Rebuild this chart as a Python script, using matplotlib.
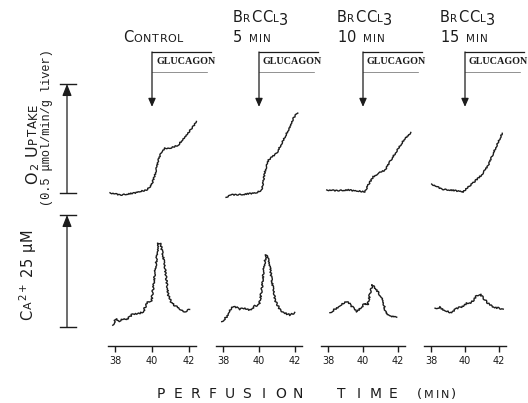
import numpy as np
import matplotlib
matplotlib.use('Agg')
import matplotlib.pyplot as plt
from matplotlib import transforms

# perfusion time (min)
# O2 uptake in umol/min/g liver above the pre-glucagon baseline
t_o2_ctrl = [37.73, 38.27, 38.99, 39.71, 39.98, 40.16, 40.34, 40.52, 40.70, 41.06, 41.42, 41.78, 42.15, 42.42]
o2_ctrl = [0.001, -0.009, -0.001, 0.014, 0.037, 0.083, 0.151, 0.190, 0.205, 0.208, 0.220, 0.258, 0.297, 0.327]

t_o2_5 = [38.17, 38.39, 39.13, 39.87, 40.15, 40.24, 40.33, 40.52, 40.79, 40.98, 41.26, 41.63, 41.91, 42.13]
o2_5 = [-0.020, -0.009, -0.006, 0.001, 0.014, 0.052, 0.098, 0.151, 0.170, 0.182, 0.228, 0.289, 0.343, 0.368]

t_o2_10 = [37.93, 38.40, 39.16, 39.64, 40.11, 40.30, 40.59, 40.87, 41.26, 41.54, 42.02, 42.40, 42.74]
o2_10 = [0.014, 0.011, 0.014, 0.009, 0.006, 0.037, 0.075, 0.090, 0.105, 0.144, 0.205, 0.251, 0.277]

t_o2_15 = [38.04, 38.34, 38.63, 39.12, 39.61, 39.90, 40.10, 40.49, 40.98, 41.37, 41.66, 41.96, 42.19]
o2_15 = [0.041, 0.029, 0.018, 0.014, 0.009, 0.005, 0.022, 0.047, 0.083, 0.128, 0.182, 0.235, 0.274]

# effluent Ca2+ (uM)
t_ca_ctrl = [37.88, 38.05, 38.23, 38.45, 38.63, 38.90, 39.35, 39.53, 39.71, 39.98, 40.07, 40.22, 40.34,
             40.47, 40.61, 40.76, 40.88, 41.06, 41.34, 41.61, 41.78, 42.02]
ca_ctrl = [0.4, 1.9, 1.2, 1.9, 1.6, 2.7, 3.1, 3.4, 5.3, 6.0, 9.0, 14.2, 18.7,
           18.5, 15.7, 11.2, 7.1, 5.3, 4.5, 3.8, 3.4, 4.0]

t_ca_5 = [37.93, 38.21, 38.48, 38.67, 38.94, 39.22, 39.50, 39.78, 40.02, 40.15, 40.28, 40.39, 40.54,
          40.71, 40.89, 41.17, 41.44, 41.72, 42.00]
ca_5 = [1.2, 2.3, 4.4, 4.5, 4.0, 4.1, 3.8, 4.7, 5.1, 8.3, 13.5, 16.1, 15.3,
        10.5, 6.0, 3.8, 3.1, 2.7, 3.1]

t_ca_10 = [38.11, 38.40, 38.69, 38.97, 39.16, 39.45, 39.64, 39.93, 40.11, 40.27, 40.40, 40.53, 40.73,
           40.97, 41.16, 41.30, 41.54, 41.93]
ca_10 = [3.2, 4.0, 4.7, 5.6, 5.5, 4.2, 3.4, 4.5, 5.3, 4.9, 7.5, 9.4, 8.6,
         7.1, 5.6, 3.1, 2.5, 2.3]

t_ca_15 = [38.24, 38.53, 38.82, 39.22, 39.51, 39.81, 40.10, 40.39, 40.65, 40.88, 41.18, 41.47, 41.76, 42.25]
ca_15 = [4.2, 4.4, 3.6, 3.2, 4.2, 4.4, 5.3, 5.5, 6.8, 7.4, 6.0, 4.9, 4.4, 4.0]

glucagon_time = 40.0
time_ticks = [38, 40, 42]
o2_scale = 0.5   # umol/min/g
ca_scale = 25    # uM

panels = [(t_o2_ctrl, o2_ctrl, t_ca_ctrl, ca_ctrl),
          (t_o2_5, o2_5, t_ca_5, ca_5),
          (t_o2_10, o2_10, t_ca_10, ca_10),
          (t_o2_15, o2_15, t_ca_15, ca_15)]

W, H = 528, 403
ink = '#1c1c1c'
fig = plt.figure(figsize=(W / 100, H / 100), dpi=100)
renderer = fig.canvas.get_renderer()

# overlay for lettering, in pixel units (y down)
ax0 = fig.add_axes([0, 0, 1, 1], zorder=-1)
ax0.set_xlim(0, W)
ax0.set_ylim(H, 0)
ax0.axis('off')


def px_axes(left, top, width, height):
    return fig.add_axes([left / W, 1 - (top + height) / H, width / W, height / H])


def caps(x, y, parts, rot=0, track=0.0):
    # hand-set lettering: pieces of different sizes on one baseline
    for part in parts:
        s, fs = part[0], part[1]
        dy = part[2] if len(part) > 2 else 0
        pieces = [s] if '$' in s else list(s)
        for p in pieces:
            if p == ' ':
                adv = 0.32 * fs * 100 / 72
            elif rot == 0:
                t = ax0.text(x, y + dy, p, fontsize=fs, ha='left', va='baseline', color=ink)
                adv = t.get_window_extent(renderer).width
            else:
                t = ax0.text(x + dy, y, p, fontsize=fs, rotation=90, rotation_mode='anchor',
                             ha='left', va='baseline', color=ink)
                adv = t.get_window_extent(renderer).height
            if rot == 0:
                x += adv + track
            else:
                y -= adv + track


x38 = [115, 223, 328, 431]
px_min = [18.5, 18.0, 17.5, 17.0]

o2_axes = []
for i, (t1, o2, t2, ca) in enumerate(panels):
    left = x38[i] - 0.4 * px_min[i]
    width = 4.8 * px_min[i]

    ax = px_axes(left, 84, width, 109)
    ax.set_xlim(37.6, 42.4)
    ax.set_ylim(0, o2_scale)
    ax.axis('off')
    ln, = ax.plot(t1, o2, color=ink, lw=1.0, clip_on=False)
    ln.set_sketch_params(0.6, 3, 3)
    o2_axes.append(ax)

    # glucagon flag
    ax.annotate('', xy=(glucagon_time, 0.395), xytext=(glucagon_time, 0.647),
                arrowprops=dict(arrowstyle='-|>,head_length=0.5,head_width=0.22', color=ink,
                                lw=0.9, shrinkA=0, shrinkB=0), annotation_clip=False)
    ax.plot([glucagon_time, glucagon_time + 59 / px_min[i]], [0.647, 0.647], color=ink, lw=0.9, clip_on=False)
    ax.plot([glucagon_time, glucagon_time + 55 / px_min[i]], [0.557, 0.557], color='#666666', lw=0.5, clip_on=False)
    ax.text(glucagon_time + 0.22, 0.602, 'GLUCAGON', fontsize=7.3, family='Liberation Serif',
            weight='bold', color=ink, va='center', ha='left')

    ax = px_axes(left, 215, width, 131)
    ax.set_xlim(37.6, 42.4)
    ax.set_ylim(-4.24, ca_scale)
    ln, = ax.plot(t2, ca, color=ink, lw=1.0, clip_on=False)
    ln.set_sketch_params(0.8, 2.5, 3)
    for s in ['top', 'left', 'right']:
        ax.spines[s].set_visible(False)
    ax.spines['bottom'].set_linewidth(1.0)
    ax.spines['bottom'].set_color(ink)
    ax.set_yticks([])
    ax.set_xticks(time_ticks)
    ax.tick_params(axis='x', direction='out', length=4.5, width=1.0, color=ink,
                   labelsize=7, pad=2.5, labelcolor=ink)
    ax.patch.set_alpha(0)
    if i == 0:
        ca_ax = ax

# scale bars
for ax_ref, top in [(o2_axes[0], o2_scale), (ca_ax, ca_scale)]:
    tr = transforms.blended_transform_factory(ax0.transData, ax_ref.transData)
    ax0.annotate('', xy=(67, top), xytext=(67, 0), xycoords=tr, textcoords=tr,
                 arrowprops=dict(arrowstyle='-|>,head_length=0.7,head_width=0.28', color=ink,
                                 lw=0.9, shrinkA=0, shrinkB=0), annotation_clip=False)
    ax0.plot([60, 76], [top, top], color=ink, lw=1.0, transform=tr, clip_on=False)
    ax0.plot([60, 76], [0, 0], color=ink, lw=1.0, transform=tr, clip_on=False)

# column titles
caps(123, 42, [('C', 10.5), ('ONTROL', 8)], track=0.6)
for x, mins in [(233, '5'), (337, '10'), (440, '15')]:
    caps(x, 22, [('B', 10.5), ('R', 7.5), ('CC', 10.5), ('L', 7.5), ('3', 10.5, 3)], track=0.6)
    caps(x, 42, [(mins, 10.5), (' ', 10.5), ('MIN', 7.5)], track=1.0)

# y labels
caps(37, 184, [('O', 11.5), ('$_2$', 11.5), (' ', 11), ('U', 11.5), ('PTAKE', 8.5)], rot=90, track=0.8)
ax0.text(47, 128, '(0.5 \u03bcmol/min/g liver)', rotation=90, fontsize=8.6, ha='center', va='center',
         color=ink, family='Liberation Mono')
caps(32, 320, [('C', 10.5), ('A', 8), ('$^{2+}$', 10.5), (' ', 10), ('25', 10.5), (' ', 10), ('\u03bcM', 10.5)],
     rot=90, track=0.8)

# x label
for k, ch in enumerate('PERFUSION'):
    ax0.text(161 + k * 17.1, 398, ch, fontsize=10, ha='center', va='baseline', color=ink)
for k, ch in enumerate('TIME'):
    ax0.text(341 + k * 17.3, 398, ch, fontsize=10, ha='center', va='baseline', color=ink)
caps(417, 398, [('(', 9.5), ('MIN', 8), (')', 9.5)], track=2.0)

fig.savefig('out.png', dpi=100)
